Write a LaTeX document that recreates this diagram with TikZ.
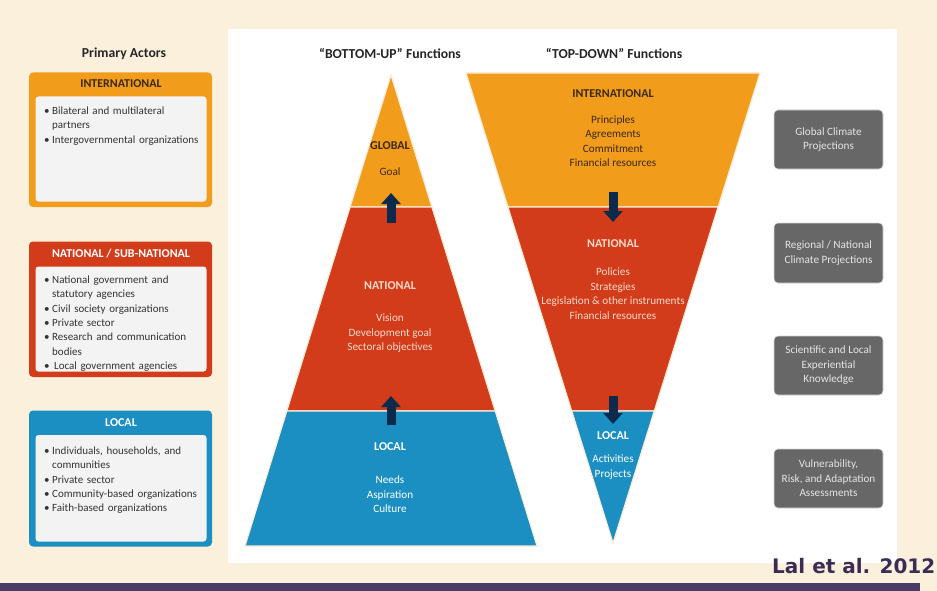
\documentclass[tikz,border=0pt]{standalone}
\usepackage{fontspec}
\setmainfont{Carlito}
\newfontfamily\citefont{DejaVu Sans}
\usetikzlibrary{arrows.meta}
\definecolor{bgcream}{HTML}{FBF0DC}
\definecolor{barpurple}{HTML}{4B3C66}
\definecolor{citepurple}{HTML}{3B2C56}
\definecolor{intlorange}{HTML}{F29C1C}
\definecolor{natred}{HTML}{D23C1A}
\definecolor{localblue}{HTML}{1B8FC2}
\definecolor{arrownavy}{HTML}{0C2A4B}
\definecolor{darktext}{HTML}{3A2914}
\definecolor{pinktext}{HTML}{F8DACB}
\definecolor{innerwhite}{HTML}{F3F3F4}
\definecolor{boxgray}{HTML}{676767}
\definecolor{edgecream}{HTML}{FCEBD6}
\tikzset{
	titletext/.style={font=\fontsize{13.7}{16}\selectfont\bfseries, text=black!85, inner sep=0pt},
	headtext/.style={font=\fontsize{12}{14}\selectfont\bfseries, inner sep=0pt},
	listtext/.style={font=\fontsize{11}{14.3}\selectfont, text=black!80, text width=165pt, align=left, inner sep=0pt},
	bodytext/.style={font=\fontsize{11.2}{14.5}\selectfont, align=center, inner sep=0pt},
	section/.style={draw=edgecream, line width=1.2pt, line join=miter},
	flowarrow/.style={draw=arrownavy, line width=9pt, -{Triangle[width=19pt,length=11pt]}},
	sourcebox/.style={fill=boxgray, rounded corners=4pt, draw=black!15, line width=0.6pt},
	sourcetext/.style={font=\fontsize{11.2}{14.5}\selectfont, text=white!90!black, align=center, inner sep=0pt}
}
\newcommand{\actoritem}[1]{\par\hangindent=8pt\hangafter=1\noindent\makebox[8pt][l]{\textbullet}#1}

\begin{document}
\begin{tikzpicture}[x=1pt,y=1pt,yscale=-1]
\useasboundingbox (0,0) rectangle (937,591);
% background, panel and footer
\fill[bgcream] (0,0) rectangle (937,591);
\fill[white] (228,29) rectangle (897,563);
\fill[barpurple] (0,583) rectangle (920,591);
\node[font=\citefont\bfseries\fontsize{20}{24}\selectfont, text=citepurple, anchor=base west, inner sep=0pt] (cite) at (772,573) {Lal et al. 2012};

% titles
\node[titletext] (actorstitle) at (124,54) {Primary Actors};
\node[titletext] (butitle) at (390,53) {“BOTTOM-UP” Functions};
\node[titletext] (tdtitle) at (614,53) {“TOP-DOWN” Functions};

% primary actors: international
\fill[intlorange, rounded corners=4pt] (29,72.5) rectangle (212,207);
\fill[innerwhite, rounded corners=3pt] (35.5,96.5) rectangle (206.5,201.5);
\node[headtext, text=darktext] (intlhead) at (121,83.5) {INTERNATIONAL};
\node[listtext, anchor=north west] (intllist) at (44,100) {%
	\actoritem{Bilateral and multilateral\newline partners}
	\actoritem{Intergovernmental organizations}};

% primary actors: national
\fill[natred, rounded corners=4pt] (29,241.5) rectangle (212,377);
\fill[innerwhite, rounded corners=3pt] (35.5,266.5) rectangle (206.5,371.5);
\node[headtext, text=white] (nathead) at (121,253.5) {NATIONAL / SUB-NATIONAL};
\node[listtext, anchor=north west] (natlist) at (44,269) {%
	\actoritem{National government and\newline statutory agencies}
	\actoritem{Civil society organizations}
	\actoritem{Private sector}
	\actoritem{Research and communication\newline bodies}
	\actoritem{\hspace*{2pt}Local government agencies}};

% primary actors: local
\fill[localblue, rounded corners=4pt] (29,410.5) rectangle (212,546.5);
\fill[innerwhite, rounded corners=3pt] (35.5,435) rectangle (206.5,541.5);
\node[headtext, text=white] (localhead) at (121,422.5) {LOCAL};
\node[listtext, anchor=north west] (locallist) at (44,440) {%
	\actoritem{Individuals, households, and\newline communities}
	\actoritem{Private sector}
	\actoritem{Community-based organizations}
	\actoritem{Faith-based organizations}};

% bottom-up pyramid
\filldraw[section, fill=intlorange] (391,75) -- (431.9,207) -- (350.1,207) -- cycle;
\filldraw[section, fill=natred] (350.1,207) -- (431.9,207) -- (495.2,411) -- (286.8,411) -- cycle;
\filldraw[section, fill=localblue] (286.8,411) -- (495.2,411) -- (537,546) -- (245,546) -- cycle;
\node[headtext, text=darktext] (buglobal) at (390,146) {GLOBAL};
\node[bodytext, text=darktext] (bugoal) at (390,172) {Goal};
\node[headtext, text=pinktext] (bunat) at (390,286) {NATIONAL};
\node[bodytext, text=pinktext] (bunatbody) at (390,333.5) {Vision\\Development goal\\Sectoral objectives};
\node[headtext, text=white] (bulocal) at (390,447) {LOCAL};
\node[bodytext, text=white] (bulocalbody) at (390,494.5) {Needs\\Aspiration\\Culture};
\coordinate (buup1a) at (391,223);
\coordinate (buup1b) at (391,193);
\coordinate (buup2a) at (391,425);
\coordinate (buup2b) at (391,396);
\draw[flowarrow] (buup1a) -- (buup1b);
\draw[flowarrow] (buup2a) -- (buup2b);

% top-down inverted pyramid
\filldraw[section, fill=intlorange] (466,73) -- (760,73) -- (718.1,207) -- (507.9,207) -- cycle;
\filldraw[section, fill=natred] (507.9,207) -- (718.1,207) -- (654.3,411) -- (571.7,411) -- cycle;
\filldraw[section, fill=localblue] (571.7,411) -- (654.3,411) -- (613,543) -- cycle;
\node[headtext, text=darktext] (tdintl) at (613,94) {INTERNATIONAL};
\node[bodytext, text=darktext] (tdintlbody) at (613,141) {Principles\\Agreements\\Commitment\\Financial resources};
\node[headtext, text=pinktext] (tdnat) at (613,244) {NATIONAL};
\node[bodytext, text=pinktext] (tdnatbody) at (613,293.5) {Policies\\Strategies\\Legislation \& other instruments\\Financial resources};
\node[headtext, text=white] (tdlocal) at (613,436) {LOCAL};
\node[bodytext, text=white] (tdlocalbody) at (613,467) {Activities\\Projects};
\coordinate (tddown1a) at (613,192);
\coordinate (tddown1b) at (613,222);
\coordinate (tddown2a) at (613,396);
\coordinate (tddown2b) at (613,424);
\draw[flowarrow] (tddown1a) -- (tddown1b);
\draw[flowarrow] (tddown2a) -- (tddown2b);

% information sources
\draw[sourcebox] (774,110) rectangle (883,169);
\node[sourcetext] (globproj) at (828.5,139.5) {Global Climate\\Projections};
\draw[sourcebox] (774,223) rectangle (883,283);
\node[sourcetext] (regproj) at (828.5,253) {Regional / National\\Climate Projections};
\draw[sourcebox] (774,336) rectangle (883,395);
\node[sourcetext] (knowledge) at (828.5,365.5) {Scientific and Local\\Experiential\\Knowledge};
\draw[sourcebox] (774,449) rectangle (883,508);
\node[sourcetext] (assess) at (828.5,478.5) {Vulnerability,\\Risk, and Adaptation\\Assessments};
\end{tikzpicture}
\end{document}
